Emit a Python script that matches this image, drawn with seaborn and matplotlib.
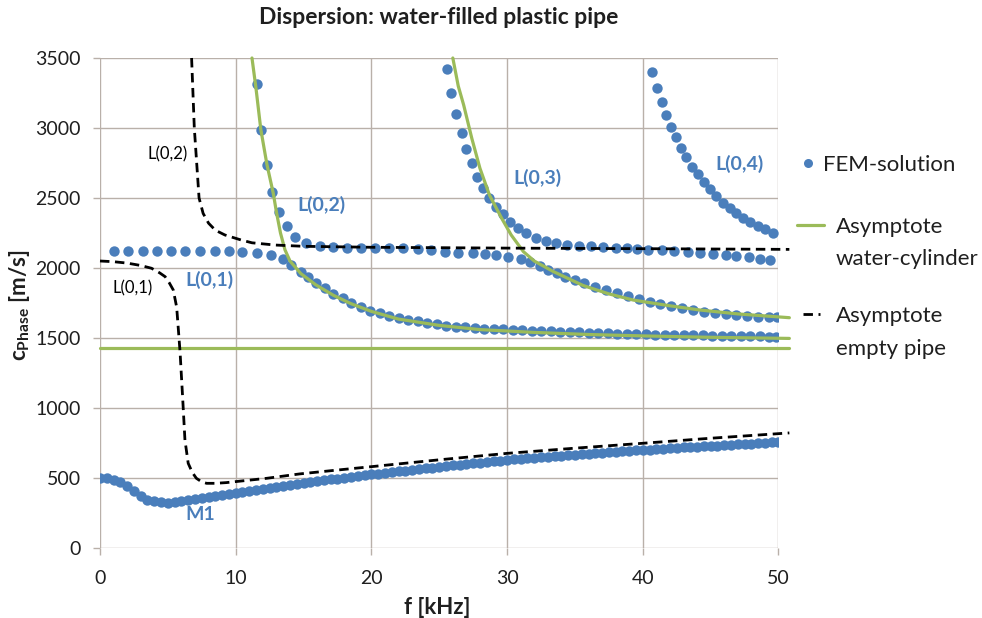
import numpy as np
import pandas as pd
import matplotlib
matplotlib.use("Agg")
import matplotlib.pyplot as plt
import seaborn as sns
from matplotlib.lines import Line2D

# ---------------- data ----------------
# FEM solution, mode M1 (dense)
m1_f = np.round(np.arange(0, 50.5, 0.5), 1)
m1_c = [500, 497, 488, 468, 440, 405, 370, 345, 333, 327,
        325, 328, 333, 340, 348, 356, 364, 372, 380, 387,
        394, 401, 408, 415, 422, 429, 436, 443, 450, 457,
        464, 471, 478, 484, 490, 496, 502, 508, 514, 520,
        526, 531, 537, 542, 548, 553, 559, 564, 569, 574,
        580, 585, 590, 595, 600, 605, 610, 614, 619, 624,
        629, 633, 637, 641, 645, 649, 652, 656, 660, 663,
        667, 670, 674, 677, 681, 684, 688, 691, 694, 697,
        700, 703, 706, 709, 712, 715, 718, 721, 724, 727,
        730, 732, 735, 738, 741, 744, 746, 749, 752, 754,
        757]

# FEM branch L(0,1): flat, then down along water-cylinder asymptote
l01_f = [1.05, 2.1, 3.15, 4.2, 5.25, 6.3, 7.35, 8.45, 9.5, 10.5, 11.55, 12.6,
         13.46, 14.1, 14.8, 15.35, 15.9, 16.6, 17.2, 17.9,
         18.5, 19.2, 19.9, 20.6, 21.3, 22.0, 22.7, 23.4, 24.1, 24.8, 25.5, 26.2,
         26.9, 27.6, 28.3, 29.0, 29.7, 30.4, 31.1, 31.8, 32.5, 33.2, 33.9, 34.6,
         35.3, 36.0, 36.7, 37.4, 38.1, 38.8, 39.5, 40.2, 40.9, 41.6, 42.3, 43.0,
         43.7, 44.4, 45.1, 45.8, 46.5, 47.2, 47.9, 48.6, 49.3, 49.8]
l01_c = [2124, 2124, 2124, 2124, 2124, 2124, 2124, 2124, 2122, 2117, 2110, 2093,
         2064, 2021, 1974, 1933, 1895, 1855, 1817, 1783,
         1752, 1719, 1693, 1676, 1660, 1643, 1631, 1619, 1606, 1597, 1588, 1580,
         1576, 1571, 1567, 1564, 1562, 1560, 1556, 1552, 1550, 1547, 1545, 1542,
         1540, 1538, 1536, 1534, 1532, 1530, 1528, 1527, 1525, 1524, 1522, 1521,
         1519, 1518, 1517, 1515, 1514, 1513, 1512, 1511, 1510, 1509]

# FEM branch L(0,2)
l02_f = [11.6, 11.9, 12.3, 12.7, 13.2, 13.75, 14.4, 15.2, 16.2, 17.2, 18.2, 19.2,
         20.3, 21.3, 22.35, 23.4, 24.4, 25.4, 26.4, 27.5, 28.4, 29.2, 30.1, 31.0,
         31.7, 32.4, 33.0, 33.65, 34.3, 35.0, 35.7, 36.5, 37.3, 38.1, 38.9, 39.7,
         40.5, 41.3, 42.1, 42.9, 43.7, 44.5, 45.3, 46.1, 46.9, 47.7, 48.5, 49.3, 49.9]
l02_c = [3314, 2986, 2736, 2545, 2402, 2300, 2224, 2181, 2157, 2148, 2145, 2145,
         2145, 2145, 2143, 2138, 2129, 2117, 2110, 2105, 2097, 2090, 2081, 2064,
         2040, 2017, 1986, 1962, 1938, 1915, 1890, 1862, 1840, 1820, 1798, 1778,
         1760, 1743, 1727, 1712, 1697, 1686, 1678, 1670, 1663, 1658, 1653, 1651, 1650]

# FEM branch L(0,3)
l03_f = [25.6, 25.9, 26.2, 26.65, 27.0, 27.4, 27.8, 28.25, 28.7, 29.2, 29.7, 30.2,
         30.8, 31.4, 32.1, 32.9, 33.6, 34.4, 35.3, 36.2, 37.1, 38.0, 38.8, 39.6,
         40.4, 41.4, 42.3, 43.3, 44.2, 45.2, 46.1, 46.9, 47.8, 48.6, 49.4]
l03_c = [3421, 3248, 3098, 2962, 2850, 2748, 2652, 2569, 2498, 2438, 2383, 2331,
         2288, 2248, 2217, 2193, 2176, 2164, 2160, 2155, 2150, 2146, 2140, 2136,
         2132, 2128, 2122, 2116, 2109, 2101, 2093, 2084, 2076, 2066, 2055]

# FEM branch L(0,4)
l04_f = [40.7, 41.07, 41.4, 41.7, 42.05, 42.45, 42.8, 43.2, 43.6, 44.1, 44.5,
         44.95, 45.4, 45.9, 46.4, 46.9, 47.4, 47.9, 48.5, 49.0, 49.6]
l04_c = [3398, 3288, 3183, 3093, 3010, 2938, 2859, 2795, 2724, 2669, 2617,
         2562, 2514, 2467, 2426, 2390, 2355, 2326, 2300, 2276, 2248]

# Asymptote water-cylinder (green)
wc0_f = [0, 50.8]
wc0_c = [1430, 1430]
wc1_f = [11.2, 11.5, 11.85, 12.3, 12.77, 13.0, 13.3, 13.63, 14.0, 14.8, 15.9,
         17.2, 18.5, 20, 22, 25, 28, 32, 36, 40, 45, 50.8]
wc1_c = [3500, 3280, 2990, 2740, 2533, 2400, 2250, 2130, 2050, 1960, 1880,
         1805, 1745, 1690, 1635, 1590, 1560, 1540, 1525, 1515, 1505, 1497]
wc2_f = [26.0, 26.4, 26.8, 27.4, 28.0, 28.7, 29.6, 30.3, 31.2, 32.0, 33.4,
         35.6, 37.5, 39.3, 42, 44.2, 47, 50.8]
wc2_c = [3500, 3300, 3164, 2926, 2712, 2521, 2355, 2236, 2117, 2050, 1975,
         1875, 1815, 1771, 1730, 1700, 1672, 1645]

# Asymptote empty pipe (black dashed)
ep2_f = [6.75, 6.95, 7.3, 7.6, 8.0, 8.5, 9.2, 10.4, 11.2, 12.9, 15, 20, 30, 40, 50.8]
ep2_c = [3500, 3000, 2500, 2390, 2320, 2270, 2236, 2200, 2180, 2164, 2155, 2148,
         2142, 2138, 2133]
ep1_f = [0, 1, 2, 3, 3.8, 4.4, 4.8, 5.1, 5.4, 5.65, 5.9, 6.1, 6.26, 6.5, 6.8,
         7.1, 7.5, 7.86, 8.5, 9.3, 12.3, 14.7, 17.0, 20.0, 25, 30, 35, 40, 45, 50.8]
ep1_c = [2050, 2045, 2035, 2018, 1998, 1965, 1938, 1895, 1843, 1720, 1400, 1057,
         771, 605, 540, 498, 472, 462, 462, 467, 498, 529, 552, 581, 630, 676,
         713, 748, 784, 822]

x_ticks = [0, 10, 20, 30, 40, 50]
y_ticks = [0, 500, 1000, 1500, 2000, 2500, 3000, 3500]

# ---------------- style ----------------
BLUE = "#4a7ebb"
GREEN = "#9bbb59"
GRID = "#b9b0a9"
TXT = "#1f1f1f"

sns.set_theme(style="white")
plt.rcParams['font.family'] = ['Lato', 'DejaVu Sans']
plt.rcParams['mathtext.fontset'] = 'custom'
plt.rcParams['mathtext.rm'] = 'Lato'
plt.rcParams['mathtext.bf'] = 'Lato:bold'

fig = plt.figure(figsize=(9.82, 6.18), dpi=100)
ax = fig.add_axes([100 / 982, 1 - 548 / 618, 678.5 / 982, 490 / 618])

fem = pd.concat([
    pd.DataFrame({"f": m1_f, "c": m1_c}),
    pd.DataFrame({"f": l01_f, "c": l01_c}),
    pd.DataFrame({"f": l02_f, "c": l02_c}),
    pd.DataFrame({"f": l03_f, "c": l03_c}),
    pd.DataFrame({"f": l04_f, "c": l04_c}),
], ignore_index=True)

sns.scatterplot(data=fem, x="f", y="c", color=BLUE, s=56, linewidth=0,
                ax=ax, zorder=2, legend=False)


def draw_line(xs, ys, **kw):
    sns.lineplot(x=xs, y=ys, sort=False, estimator=None, ax=ax, legend=False,
                 clip_on=False, zorder=3, **kw)
    return ax.lines[-1]


for xs, ys in [(wc0_f, wc0_c), (wc1_f, wc1_c), (wc2_f, wc2_c)]:
    draw_line(xs, ys, color=GREEN, lw=2.3)

for xs, ys in [(ep2_f, ep2_c), (ep1_f, ep1_c)]:
    ln = draw_line(xs, ys, color="black", lw=2.0)
    ln.set_dashes((3.4, 2.0))

ax.set_xlim(0, 50)
ax.set_ylim(0, 3500)
ax.set_xticks(x_ticks)
ax.set_yticks(y_ticks)
ax.grid(True, color=GRID, lw=1.0)
ax.set_axisbelow(True)
for s in ax.spines.values():
    s.set_visible(False)
ax.tick_params(axis="both", length=5, width=1.0, color=GRID, labelsize=14,
               labelcolor=TXT)
ax.tick_params(axis="y", pad=9, left=True)
ax.tick_params(axis="x", pad=11, bottom=True)
ax.set_xlabel("")
ax.set_ylabel("")

# titles / axis labels
fig.text(439 / 982, 1 - 18 / 618, "Dispersion: water-filled plastic pipe",
         ha="center", va="center", fontsize=16.5, fontweight="bold", color=TXT)
fig.text(437 / 982, 1 - 608 / 618, "f [kHz]", ha="center", va="center",
         fontsize=16, fontweight="bold", color=TXT)
fig.text(20 / 982, 1 - 305 / 618, r"$\mathbf{c_{Phase}}$ [m/s]", rotation=90,
         ha="center", va="center", fontsize=16, fontweight="bold", color=TXT)

# mode annotations
ax.text(8.1, 1914, "L(0,1)", color=BLUE, fontsize=14, fontweight="bold",
        ha="center", va="center")
ax.text(16.3, 2450, "L(0,2)", color=BLUE, fontsize=14, fontweight="bold",
        ha="center", va="center")
ax.text(32.2, 2643, "L(0,3)", color=BLUE, fontsize=14, fontweight="bold",
        ha="center", va="center")
ax.text(47.1, 2743, "L(0,4)", color=BLUE, fontsize=14, fontweight="bold",
        ha="center", va="center")
ax.text(7.37, 236, "M1", color=BLUE, fontsize=14, fontweight="bold",
        ha="center", va="center")
ax.text(5.0, 2811, "L(0,2)", color="black", fontsize=12,
        ha="center", va="center")
ax.text(2.43, 1857, "L(0,1)", color="black", fontsize=12,
        ha="center", va="center")

# legend (three entries, placed like the reference)
LEG_FS = 16
h_fem = Line2D([], [], marker="o", color=BLUE, ls="none", markersize=6.5,
               markeredgewidth=0)
h_wc = Line2D([], [], color=GREEN, lw=2.3)
h_ep = Line2D([], [], color="black", lw=2.0, dashes=(3.4, 2.0))

leg1 = ax.legend([h_fem], ["FEM-solution"], loc="center left",
                 bbox_to_anchor=(800 / 982, 1 - 165 / 618),
                 bbox_transform=fig.transFigure, frameon=False, fontsize=LEG_FS,
                 handlelength=0.75, handletextpad=0.3, borderpad=0,
                 borderaxespad=0, labelcolor=TXT)
ax.add_artist(leg1)
leg2 = ax.legend([h_wc], ["Asymptote"], loc="center left",
                 bbox_to_anchor=(797 / 982, 1 - 227 / 618),
                 bbox_transform=fig.transFigure, frameon=False, fontsize=LEG_FS,
                 handlelength=1.2, handletextpad=0.55, borderpad=0,
                 borderaxespad=0, labelcolor=TXT)
ax.add_artist(leg2)
leg3 = ax.legend([h_ep], ["Asymptote"], loc="center left",
                 bbox_to_anchor=(803 / 982, 1 - 316 / 618),
                 bbox_transform=fig.transFigure, frameon=False, fontsize=LEG_FS,
                 handlelength=0.75, handletextpad=0.75, borderpad=0,
                 borderaxespad=0, labelcolor=TXT)
fig.text(836 / 982, 1 - 257 / 618, "water-cylinder", ha="left",
         va="center_baseline", fontsize=LEG_FS, color=TXT)
fig.text(836 / 982, 1 - 347 / 618, "empty pipe", ha="left",
         va="center_baseline", fontsize=LEG_FS, color=TXT)

fig.savefig("out.png", dpi=100)
